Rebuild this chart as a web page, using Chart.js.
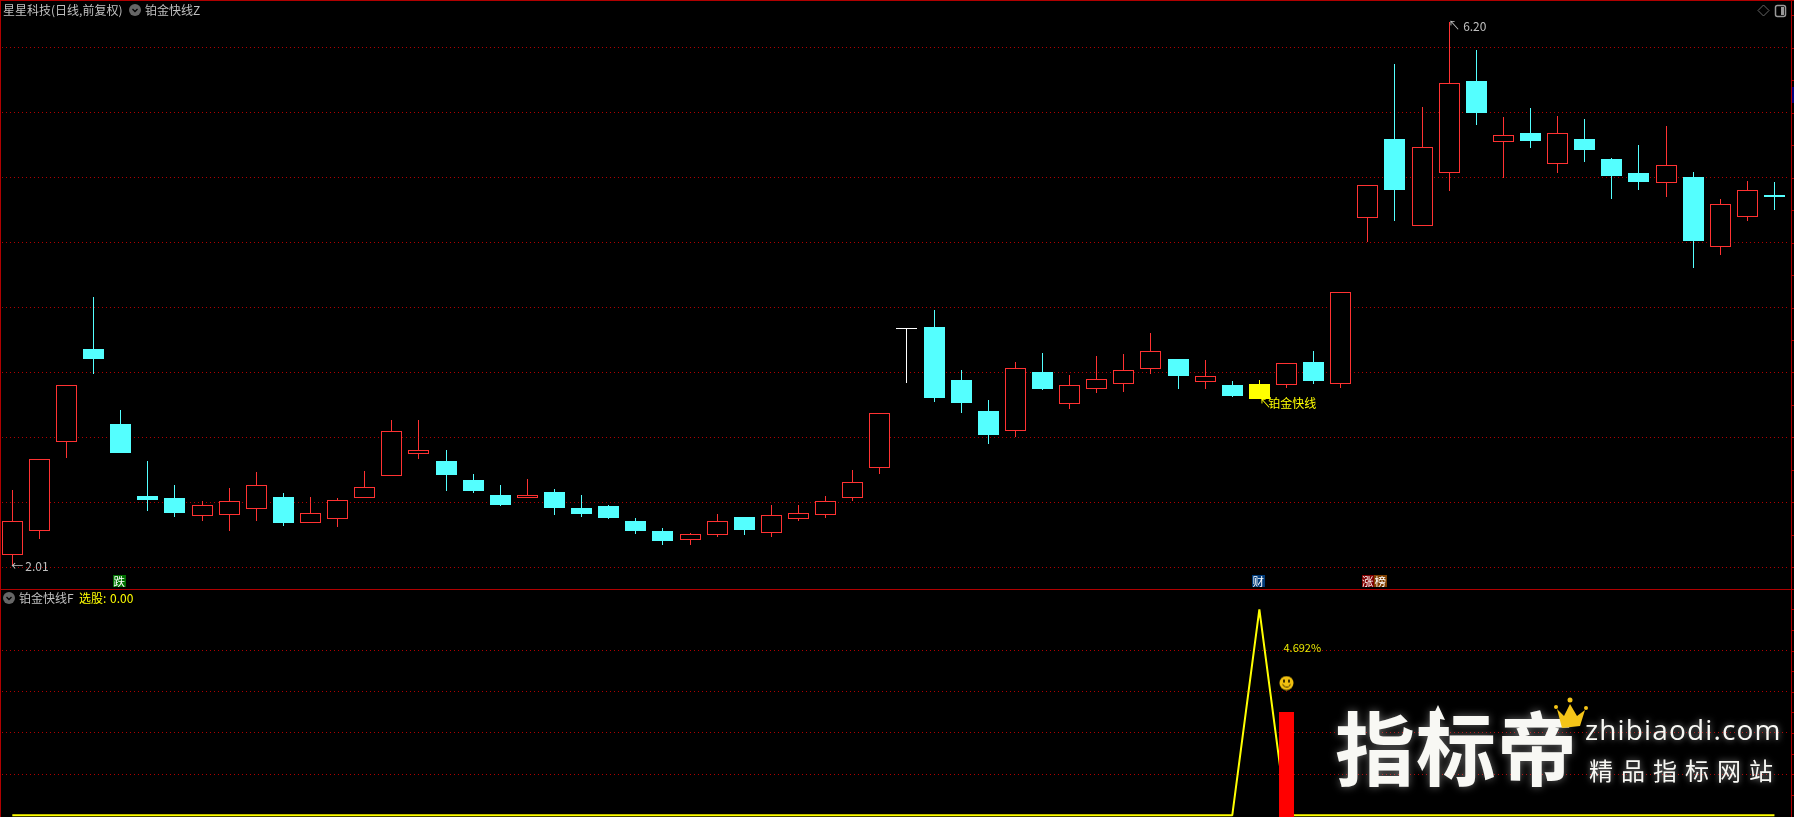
<!DOCTYPE html>
<html>
<head>
<meta charset="utf-8">
<title>铂金快线</title>
<script src="https://cdn.jsdelivr.net/npm/chart.js@4/dist/chart.umd.min.js"></script>
<style>
    html, body { margin: 0; padding: 0; background: #000; }
    body { width: 1794px; height: 817px; overflow: hidden; position: relative; font-family: "Noto Sans CJK SC", sans-serif; font-size: 12px; color: #c0c0c0; }
    canvas { position: absolute; left: 0; }
    #priceChart { top: 0; }
    #signalChart { top: 590px; }
    .edge { position: absolute; background: #b00000; }
    .txt { position: absolute; white-space: nowrap; line-height: 14px; }
    .yellow { color: #ffff00; }
    .dot { position: absolute; width: 12px; height: 12px; border-radius: 50%; background: #666; }
    .dot svg { display: block; }
    .flag { position: absolute; top: 575px; height: 12px; line-height: 12px; width: 12.5px; text-align: center; color: #fff; font-size: 11.5px; }
    .mark { position: absolute; color: #f8f8f4; white-space: nowrap; text-shadow: 0 0 6px rgba(255,255,255,.55); }
</style>
</head>
<body>
<canvas id="priceChart" width="1794" height="589"></canvas>
<canvas id="signalChart" width="1794" height="227"></canvas>

<div class="edge" style="left:0;top:0;width:1794px;height:1px"></div>
<div class="edge" style="left:0;top:0;width:1px;height:817px"></div>
<div class="edge" style="left:1791px;top:0;width:1px;height:817px"></div>
<div class="edge" style="left:0;top:589px;width:1794px;height:1px"></div>
<div style="position:absolute;left:1792px;top:87px;width:2px;height:16px;background:#000080"></div>

<div class="txt" style="left:3px;top:3px">星星科技(日线,前复权)</div>
<div class="dot" style="left:129px;top:4px"><svg width="12" height="12"><path d="M3.5 5 L6 7.5 L8.500 5" stroke="#000" stroke-width="1.300" fill="none"/></svg></div>
<div class="txt" style="left:145px;top:3px">铂金快线Z</div>
<div class="dot" style="left:3px;top:592px"><svg width="12" height="12"><path d="M3.5 5 L6 7.5 L8.500 5" stroke="#000" stroke-width="1.300" fill="none"/></svg></div>
<div class="txt" style="left:19px;top:591px">铂金快线F</div>
<div class="txt yellow" style="left:79px;top:591px">选股:</div>
<div class="txt yellow" style="left:110px;top:591px">0.00</div>

<svg style="position:absolute;left:1755px;top:2px" width="36" height="18">
    <path d="M8.500 3 L14 8.500 L8.500 14 L3 8.500 Z" stroke="#666" fill="none"/>
    <rect x="20.500" y="3.500" width="10" height="11" rx="2" stroke="#999" stroke-width="1.500" fill="none"/>
    <rect x="26" y="5" width="3" height="8" fill="#999"/>
</svg>

<div class="flag" style="left:113px;background:#007000">跌</div>
<div class="flag" style="left:1252px;background:#003a78">财</div>
<div class="flag" style="left:1361.5px;background:#800000">涨</div>
<div class="flag" style="left:1374px;background:#804000">榜</div>

<!-- watermark -->
<div class="mark" style="left:1335px;top:686px;font-size:80px;line-height:116px;font-weight:700;letter-spacing:1px;text-shadow:0 0 8px rgba(255,255,255,.4)">指标帝</div>
<svg style="position:absolute;left:1428px;top:703px" width="20" height="24"><path d="M10 2 L17 17 L12 16 L12 24 L8 24 L8 16 L3 17 Z" fill="#f8f8f4"/></svg>
<svg style="position:absolute;left:1552px;top:696px" width="38" height="36">
    <path d="M5 13 L12 20 L18 8 L25 20 L33 14 L28 30 L10 32 Z" fill="#f5c518"/>
    <circle cx="4" cy="11" r="2" fill="#f5c518"/><circle cx="18" cy="4" r="2.500" fill="#f5c518"/><circle cx="34" cy="12" r="2" fill="#f5c518"/>
</svg>
<div class="mark" style="left:1585px;top:711px;font-size:28px;line-height:36px;font-family:'Open Sans',sans-serif;letter-spacing:1.15px">zhibiaodi.com</div>
<div class="mark" style="left:1589px;top:753px;font-size:24px;line-height:34px;letter-spacing:8px">精品指标网站</div>

<script>
// 星星科技 daily candles
const highs = [2.595,2.831,3.401,4.079,3.211,2.818,2.633,2.510,2.610,2.734,
    2.572,2.541,2.533,2.741,3.134,3.134,2.903,2.718,2.633,2.680,
    2.603,2.556,2.479,2.379,2.302,2.264,2.410,2.387,2.479,2.479,
    2.549,2.749,3.186,3.832,3.981,3.519,3.288,3.581,3.650,3.480,
    3.627,3.642,3.804,3.604,3.596,3.434,3.442,3.571,3.665,4.117,
    4.941,5.875,5.544,6.199,5.983,5.467,5.536,5.475,5.452,5.151,
    5.251,5.398,5.044,4.836,4.974,4.967];
const lows = [2.010,2.220,2.844,3.488,2.880,2.433,2.387,2.356,2.279,2.356,
    2.318,2.343,2.310,2.536,2.705,2.834,2.587,2.572,2.472,2.536,
    2.402,2.387,2.372,2.256,2.171,2.171,2.233,2.248,2.233,2.356,
    2.379,2.510,2.718,3.419,3.273,3.188,2.949,3.003,3.365,3.219,
    3.342,3.350,3.488,3.373,3.373,3.311,3.296,3.380,3.411,3.380,
    4.502,4.666,4.630,4.897,5.405,5.000,5.228,5.036,5.121,4.836,
    4.905,4.851,4.304,4.404,4.666,4.751];
const opens = [2.097,2.282,2.967,3.681,3.103,2.549,2.533,2.397,2.405,2.451,
    2.541,2.343,2.374,2.536,2.705,2.875,2.818,2.672,2.556,2.536,
    2.580,2.456,2.472,2.356,2.279,2.212,2.251,2.387,2.266,2.374,
    2.405,2.536,2.767,3.832,3.850,3.442,3.203,3.052,3.504,3.260,
    3.375,3.414,3.529,3.604,3.429,3.403,3.411,3.406,3.581,3.414,
    4.692,5.298,4.630,5.038,5.744,5.277,5.344,5.108,5.298,5.144,
    5.036,4.961,5.005,4.468,4.699,4.866];
const closes = [2.354,2.831,3.401,3.604,2.880,2.518,2.418,2.477,2.508,2.631,
    2.341,2.416,2.516,2.616,3.047,2.901,2.710,2.587,2.479,2.556,
    2.456,2.410,2.379,2.279,2.202,2.254,2.354,2.287,2.400,2.416,
    2.508,2.654,3.186,3.832,3.303,3.265,3.018,3.532,3.373,3.401,
    3.447,3.517,3.663,3.473,3.470,3.319,3.296,3.571,3.434,4.117,
    4.941,4.905,5.234,5.727,5.498,5.326,5.282,5.342,5.213,5.013,
    4.967,5.095,4.512,4.795,4.903,4.851];

const priceGrid = [2, 2.5, 3, 3.5, 4, 4.5, 5, 5.5, 6];
const priceTicks = [2.25, 2.75, 3.25, 3.75, 4.25, 4.75, 5.25, 5.75, 6.25];
const signalGrid = [0.2, 0.4, 0.6, 0.8];
const signalTicks = [0.1, 0.3, 0.5, 0.7, 0.9, 1];

// 铂金快线F panel
const signalIndex = 46;
const buyIndex = 47;
const buyBar = 0.5;
const buyPercent = '4.692%';
const smileLevel = 0.642;
const percentLevel = 0.813;

const RED = '#ff3232';
const CYAN = '#54ffff';
const YELLOW = '#ffff00';
const GRID_RED = '#b00000';

function candleColor(i) {
    if (i === signalIndex) return YELLOW;
    if (closes[i] > opens[i]) return RED;
    if (closes[i] < opens[i]) return CYAN;
    return '#ffffff';
}

const indexes = closes.map((_, i) => i);
const candleColors = indexes.map(candleColor);
const candleFills = indexes.map(i => candleColors[i] === RED ? '#000000' : candleColors[i]);

// Both panels share the same x mapping
function xScale() {
    return { type: 'linear', display: false, offset: false, min: -0.38, max: 65.5 };
}

function yScale(min, max, gridValues) {
    return {
        type: 'linear',
        min: min,
        max: max,
        afterBuildTicks: scale => { scale.ticks = gridValues.map(v => ({ value: v })); },
        ticks: { display: false },
        border: { display: false, dash: [1, 3] },
        grid: { color: GRID_RED, drawTicks: false, lineWidth: 1 }
    };
}

// Keep bars on whole pixels, the original has no anti-aliasing
const snapBars = {
    id: 'snapBars',
    beforeDatasetsDraw(chart) {
        chart.getSortedVisibleDatasetMetas().forEach(meta => {
            if (meta.type !== 'bar') return;
            meta.data.forEach(bar => {
                bar.x = Math.floor(bar.x) + 0.5;
                bar.y = Math.round(bar.y);
                bar.base = Math.round(bar.base);
                bar.height = bar.base - bar.y;
            });
        });
    }
};

// Short ticks on the right edge of a panel
function edgeTicks(values) {
    return {
        id: 'edgeTicks',
        afterDraw(chart) {
            const ctx = chart.ctx;
            ctx.save();
            ctx.fillStyle = GRID_RED;
            values.forEach(v => {
                ctx.fillRect(1792, Math.round(chart.scales.y.getPixelForValue(v)), 2, 1);
            });
            ctx.restore();
        }
    };
}

function drawLabel(ctx, text, x, y, color, font) {
    ctx.fillStyle = color;
    ctx.font = font || '12px "Noto Sans CJK SC"';
    ctx.textBaseline = 'middle';
    ctx.fillText(text, x, y);
}

const priceLabels = {
    id: 'priceLabels',
    afterDraw(chart) {
        const ctx = chart.ctx;
        const x = chart.scales.x;
        const y = chart.scales.y;
        ctx.save();
        const lowAt = lows.indexOf(Math.min(...lows));
        const highAt = highs.indexOf(Math.max(...highs));
        drawLabel(ctx, '←', x.getPixelForValue(lowAt) - 1, y.getPixelForValue(lows[lowAt]), '#c0c0c0');
        drawLabel(ctx, '2.01', x.getPixelForValue(lowAt) + 13, y.getPixelForValue(lows[lowAt]), '#c0c0c0');
        drawLabel(ctx, '↖', x.getPixelForValue(highAt) - 1, y.getPixelForValue(highs[highAt]) + 3, '#c0c0c0');
        drawLabel(ctx, '6.20', x.getPixelForValue(highAt) + 14, y.getPixelForValue(highs[highAt]) + 4, '#c0c0c0');
        drawLabel(ctx, '↖', x.getPixelForValue(signalIndex) + 0, y.getPixelForValue(lows[signalIndex]) + 4, YELLOW);
        drawLabel(ctx, '铂金快线', x.getPixelForValue(signalIndex) + 9, y.getPixelForValue(lows[signalIndex]) + 4, YELLOW);
        ctx.restore();
    }
};

const signalLabels = {
    id: 'signalLabels',
    afterDraw(chart) {
        const ctx = chart.ctx;
        ctx.save();
        drawLabel(ctx, buyPercent, chart.scales.x.getPixelForValue(buyIndex) - 3, chart.scales.y.getPixelForValue(percentLevel), '#e8e800', '11px "Noto Sans CJK SC"');
        ctx.restore();
    }
};

// The little face above the red bar
function makeSmiley() {
    const c = document.createElement('canvas');
    c.width = 15;
    c.height = 15;
    const g = c.getContext('2d');
    g.fillStyle = '#f0c010';
    g.beginPath();
    g.arc(7.5, 7.5, 7, 0, Math.PI * 2);
    g.fill();
    g.fillStyle = '#403000';
    g.fillRect(4, 4, 2, 3);
    g.fillRect(9, 4, 2, 3);
    g.strokeStyle = '#403000';
    g.beginPath();
    g.arc(7.5, 7.5, 4, 0.3, Math.PI - 0.3);
    g.stroke();
    return c;
}

function renderPriceChart() {
    const ctx = document.getElementById('priceChart').getContext('2d');
    new Chart(ctx, {
        type: 'bar',
        data: {
            datasets: [{
                // candle bodies
                data: indexes.map(i => ({ x: i, y: [opens[i], closes[i]] })),
                backgroundColor: candleFills,
                borderColor: candleColors,
                borderWidth: 1,
                borderSkipped: false,
                inflateAmount: 0,
                barThickness: 21,
                minBarLength: 1,
                grouped: false,
                order: 1
            }, {
                // wicks
                data: indexes.map(i => ({ x: i, y: [lows[i], highs[i]] })),
                backgroundColor: candleColors,
                borderWidth: 0,
                inflateAmount: 0,
                barThickness: 1,
                grouped: false,
                order: 2
            }]
        },
        options: {
            responsive: false,
            animation: false,
            devicePixelRatio: 1,
            layout: { autoPadding: false, padding: { left: 2, right: 6, top: 0, bottom: 0 } },
            plugins: { legend: { display: false }, tooltip: { enabled: false } },
            scales: { x: xScale(), y: yScale(1.833, 6.368, priceGrid) }
        },
        plugins: [snapBars, edgeTicks(priceTicks.concat(priceGrid)), priceLabels]
    });
}

function renderSignalChart() {
    const ctx = document.getElementById('signalChart').getContext('2d');
    new Chart(ctx, {
        type: 'bar',
        data: {
            datasets: [{
                type: 'scatter',
                data: [{ x: buyIndex, y: smileLevel }],
                pointStyle: makeSmiley(),
                order: 1
            }, {
                type: 'bar',
                data: [{ x: buyIndex, y: buyBar }],
                backgroundColor: '#ff0000',
                borderWidth: 0,
                inflateAmount: 0,
                barThickness: 15,
                base: -0.00825,
                order: 2
            }, {
                type: 'line',
                data: indexes.map(i => ({ x: i, y: i === signalIndex ? 1 : 0 })),
                borderColor: YELLOW,
                borderWidth: 2,
                borderJoinStyle: 'bevel',
                pointRadius: 0,
                tension: 0,
                order: 3
            }]
        },
        options: {
            responsive: false,
            animation: false,
            devicePixelRatio: 1,
            layout: { autoPadding: false, padding: { left: 2, right: 6, top: 0, bottom: 0 } },
            plugins: { legend: { display: false }, tooltip: { enabled: false } },
            scales: { x: xScale(), y: yScale(-0.00825, 1.0937, signalGrid) }
        },
        plugins: [snapBars, edgeTicks(signalTicks.concat(signalGrid)), signalLabels]
    });
}

renderPriceChart();
renderSignalChart();
</script>
</body>
</html>
